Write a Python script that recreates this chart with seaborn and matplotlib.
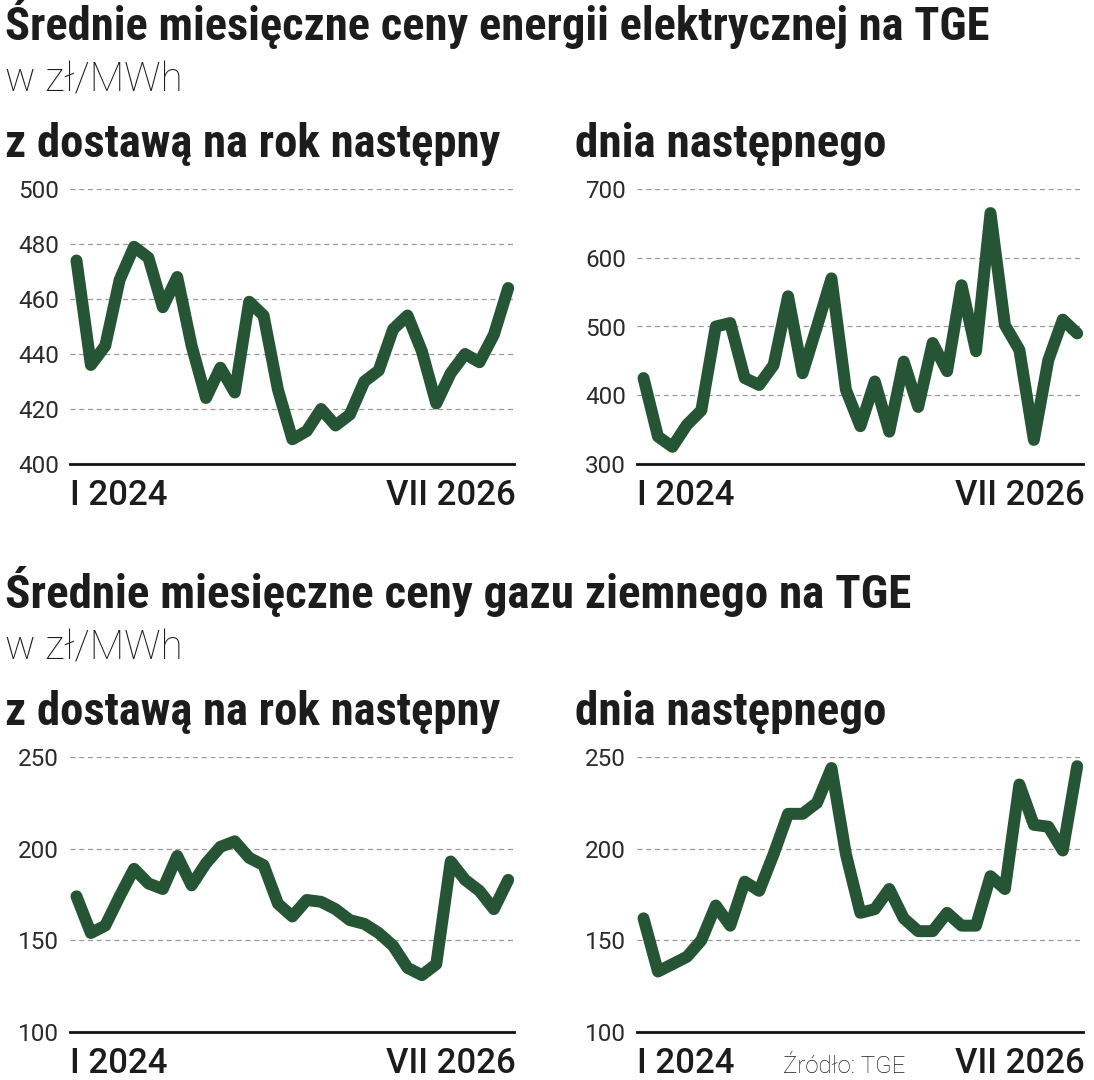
import numpy as np
import pandas as pd
import matplotlib
matplotlib.use("Agg")
import matplotlib.pyplot as plt
import seaborn as sns
from matplotlib import font_manager

# ---------------- data ----------------
months = pd.date_range("2024-01-01", "2026-07-01", freq="MS")
month_idx = list(range(len(months)))

power_year_ahead = [474, 436, 443, 467, 479, 475, 457, 468, 443, 424, 435, 426,
                    459, 454, 427, 409, 412, 420, 414, 418, 430, 434, 449, 454,
                    441, 422, 433, 440, 437, 447, 464]
power_day_ahead = [425, 340, 325, 357, 378, 500, 505, 425, 415, 444, 544, 432,
                   500, 570, 408, 355, 420, 347, 449, 383, 476, 435, 560, 464,
                   665, 502, 466, 335, 451, 510, 490]
gas_year_ahead = [174, 154, 158, 174, 189, 181, 178, 196, 180, 192, 201, 204,
                  195, 191, 170, 163, 172, 171, 167, 161, 159, 154, 147, 135,
                  131, 137, 193, 183, 177, 167, 183]
gas_day_ahead = [162, 133, 137, 141, 150, 169, 158, 182, 177, 197, 219, 219,
                 225, 244, 197, 165, 167, 178, 162, 155, 155, 165, 158, 158,
                 185, 178, 235, 213, 212, 199, 245]

title_power = "Średnie miesięczne ceny energii elektrycznej na TGE"
title_gas = "Średnie miesięczne ceny gazu ziemnego na TGE"
unit = "w zł/MWh"
sub_left = "z dostawą na rok następny"
sub_right = "dnia następnego"
x_start_label = "I 2024"
x_end_label = "VII 2026"
source = "Źródło: TGE"

panels = [
    (power_year_ahead, [400, 420, 440, 460, 480, 500]),
    (power_day_ahead, [300, 400, 500, 600, 700]),
    (gas_year_ahead, [100, 150, 200, 250]),
    (gas_day_ahead, [100, 150, 200, 250]),
]

# ---------------- style ----------------
sns.set_theme(style="white")
names = {f.name for f in font_manager.fontManager.ttflist}
cond = next((n for n in ["Roboto Condensed", "Liberation Sans Narrow",
                         "Open Sans Condensed"] if n in names), "Roboto")
base = "Roboto" if "Roboto" in names else "DejaVu Sans"
plt.rcParams["font.family"] = [base, "DejaVu Sans"]

GREEN = "#255534"
TXT = "#1c1c1c"
W, H = 1094, 1080
fig = plt.figure(figsize=(W / 100, H / 100), dpi=100)


def fy(px):
    return 1 - px / H


def fx(px):
    return px / W


# axes rectangles (pixels: left, right, top, bottom)
rects = [(70, 514, 189, 464), (637, 1083, 189, 464),
         (70, 514, 757, 1032), (637, 1083, 757, 1032)]

for (vals, ticks), (l, r, t, b) in zip(panels, rects):
    ax = fig.add_axes([fx(l), fy(b), fx(r - l), (b - t) / H])
    df = pd.DataFrame({"m": month_idx, "v": vals})
    sns.lineplot(data=df, x="m", y="v", ax=ax, color=GREEN, lw=8.6,
                 solid_capstyle="round", solid_joinstyle="round", zorder=3)
    ax.set_xlim(-0.45, 30.4)
    ax.set_ylim(ticks[0], ticks[-1])
    ax.set_yticks(ticks)
    ax.set_yticklabels([str(v) for v in ticks], fontsize=17.5, color="#2b2b2b",
                       fontweight="normal")
    ax.set_xticks([])
    ax.set_xlabel("")
    ax.set_ylabel("")
    ax.tick_params(axis="y", length=0, pad=8)
    for tv in ticks[1:]:
        ax.axhline(tv, color="#9a9a9a", lw=0.9, ls=(0, (4, 3)), zorder=1)
    for s in ["top", "right", "left"]:
        ax.spines[s].set_visible(False)
    ax.spines["bottom"].set_color("#111111")
    ax.spines["bottom"].set_linewidth(2.0)
    ax.patch.set_alpha(0)
    fig.text(fx(l), fy(b + 41), x_start_label, fontsize=25, fontweight="medium",
             color=TXT, ha="left", va="baseline")
    fig.text(fx(r + 2), fy(b + 41), x_end_label, fontsize=25, fontweight="medium",
             color=TXT, ha="right", va="baseline")

texts = []


def add(xp, yp, s, size, weight, family, target=None):
    t = fig.text(fx(xp), fy(yp), s, fontsize=size, fontweight=weight,
                 family=[family, "DejaVu Sans"], color=TXT, ha="left", va="baseline")
    texts.append((t, target))
    return t


for off in (0, 568):
    add(5, 40 + off, title_power if off == 0 else title_gas, 30, "bold", cond,
        985 if off == 0 else 905)
    add(5, 91 + off, unit, 23, "light", base, 178)
    add(5, 157 + off, sub_left, 30, "bold", cond, 497)
    add(575, 157 + off, sub_right, 30, "bold", cond, 312)

add(783, 1073, source, 17, "light", base, 122)

# fit text widths to the reference
fig.canvas.draw()
rend = fig.canvas.get_renderer()
for t, target in texts:
    if target:
        w = t.get_window_extent(rend).width
        t.set_fontsize(t.get_fontsize() * target / w)

fig.savefig("out.png", dpi=100, facecolor="white")
